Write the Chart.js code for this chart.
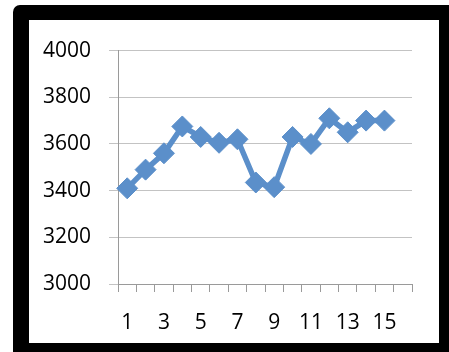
<!DOCTYPE html>
<html><head><meta charset="utf-8">
<script src="https://cdn.jsdelivr.net/npm/chart.js@4.4.0/dist/chart.umd.min.js"></script>
<style>
html,body{margin:0;padding:0;background:#fff;width:449px;height:352px;overflow:hidden}
#frame{position:absolute;left:13px;top:5px;width:436px;height:347px;background:#000;border-top-left-radius:7px}
#inner{position:absolute;left:29px;top:20px;width:410px;height:323px;background:#fff}
canvas{display:block}
</style></head><body>
<div id="frame"></div>
<div id="inner"><canvas id="c" width="410" height="323"></canvas></div>
<script>
const categories = ['1','2','3','4','5','6','7','8','9','10','11','12','13','14','15','16'];
const values = [3410,3490,3560,3675,3630,3605,3620,3435,3415,3630,3600,3710,3650,3700,3700,null];
const yMin = 3000, yMax = 4000, yStep = 200;
const lineColor = '#5B8FCA';

new Chart(document.getElementById('c'), {
  type: 'line',
  data: {
    labels: categories,
    datasets: [{
      data: values,
      borderColor: lineColor,
      backgroundColor: lineColor,
      borderWidth: 5.5,
      pointStyle: 'rectRot',
      pointRadius: 10.5,
      pointBorderWidth: 1,
      pointBackgroundColor: lineColor,
      pointBorderColor: lineColor,
      tension: 0,
      spanGaps: false
    }]
  },
  options: {
    responsive: false,
    animation: false,
    events: [],
    layout: { padding: { top: 27, right: 27, left: 0, bottom: 0 } },
    plugins: { legend: { display: false }, tooltip: { enabled: false } },
    scales: {
      x: {
        offset: true,
        grid: { offset: true, drawOnChartArea: false, drawTicks: true, tickLength: 8, color: '#9A9A9A' },
        border: { color: '#9A9A9A', width: 1 },
        ticks: {
          autoSkip: false, maxRotation: 0, padding: 18, color: '#000',
          font: { family: 'Open Sans', size: 21 },
          callback: function(v, i) { return i % 2 === 0 ? categories[i] : ''; }
        },
        afterFit: s => { s.height = 59; }
      },
      y: {
        min: yMin, max: yMax,
        grid: { color: '#C3C3C3', tickLength: 9, lineWidth: 1 },
        border: { color: '#9A9A9A', width: 1 },
        ticks: { stepSize: yStep, padding: 18, color: '#000', font: { family: 'Open Sans', size: 21 },
          callback: v => String(v) },
        afterFit: s => { s.width = 89; }
      }
    }
  }
});
</script>
</body></html>
